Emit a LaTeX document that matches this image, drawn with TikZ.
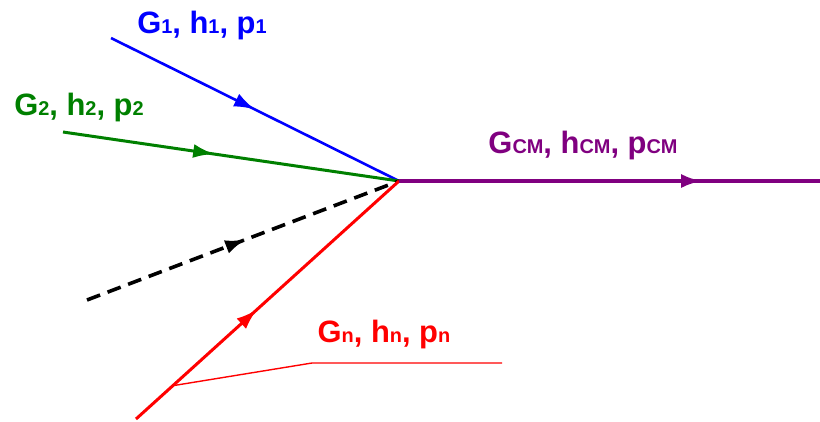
\documentclass[tikz,border=0pt]{standalone}
\usepackage{fontspec}
\setmainfont{Liberation Sans}
\usetikzlibrary{calc,arrows.meta,decorations.markings}
\definecolor{legblue}{RGB}{0,0,255}
\definecolor{leggreen}{RGB}{0,128,0}
\definecolor{legred}{RGB}{255,0,0}
\definecolor{legpurple}{RGB}{128,0,128}
\newcommand{\lsub}[1]{{\fontsize{20}{21}\selectfont #1}}
\tikzset{
    % incoming and outgoing legs
    leg/.style={line width=3bp},
    blueleg/.style={leg, legblue, line width=2.6bp},
    greenleg/.style={leg, leggreen},
    redleg/.style={leg, legred},
    darkleg/.style={leg, black, line width=3.6bp, dash pattern=on 14bp off 8bp},
    outleg/.style={leg, legpurple, line width=4bp},
    % filled arrow halfway along a leg
    midarrow/.style={postaction={decorate},
        decoration={markings, mark=at position #1 with
            {\arrow{Latex[length=21bp,width=14bp]}}}},
    % labels
    leglabel/.style={anchor=base, inner sep=0pt,
        font=\fontsize{31}{37}\selectfont\bfseries},
}
\begin{document}
\begin{tikzpicture}[x=1bp,y=-1bp]
  \useasboundingbox (0,0) rectangle (820,421);
  \coordinate (v) at (399,181);
  \coordinate (s1) at (111,38);
  \coordinate (s2) at (63,132);
  \coordinate (sk) at (87,300);
  \coordinate (sn) at (136,419);
  \coordinate (out) at (820,181);
  % legs meeting in the vertex
  \draw[blueleg, midarrow=0.5] (s1) -- (v);
  \draw[greenleg, midarrow=0.45] (s2) -- (v);
  \draw[darkleg, solid, draw=none, midarrow=0.51] (sk) -- (v);
  \draw[darkleg] (sk) -- (v);
  \draw[redleg, midarrow=0.46] (sn) -- (v);
  \draw[outleg, midarrow=0.72] (v) -- (out);
  % labels
  \node[leglabel, text=legblue] (l1) at (202,33) {G\lsub{1}, h\lsub{1}, p\lsub{1}};
  \node[leglabel, text=leggreen] (l2) at (79,115) {G\lsub{2}, h\lsub{2}, p\lsub{2}};
  \node[leglabel, text=legpurple] (lcm) at (583,153) {G\lsub{CM}, h\lsub{CM}, p\lsub{CM}};
  \node[leglabel, text=legred] (ln) at (384,342) {G\lsub{n}, h\lsub{n}, p\lsub{n}};
  % pointer from the red label to its leg
  \coordinate (foot) at ($(sn)!0.14!(v)$);
  \coordinate (bend) at (312,363);
  \coordinate (tail) at (502,363);
  \draw[legred, line width=1.4bp] (foot) -- (bend) -- (tail);
\end{tikzpicture}
\end{document}
